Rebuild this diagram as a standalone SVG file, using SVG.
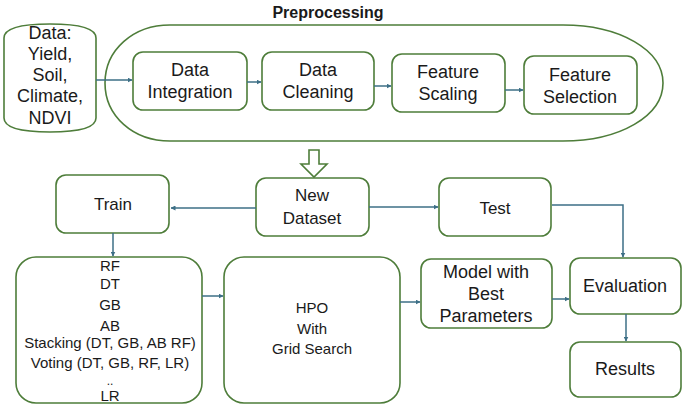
<svg xmlns="http://www.w3.org/2000/svg" width="685" height="407" viewBox="0 0 685 407">
<defs>
<style>
.box{fill:#fff;stroke:#4e7d3a;stroke-width:1.6}
.t{font-family:"Liberation Sans",Arial,sans-serif;font-size:18px;fill:#1a1a1a;text-anchor:middle}
.m{font-size:17px}
.s{font-size:15px}
.c{fill:none;stroke:#3d6f86;stroke-width:1.5}
</style>
<marker id="ah" viewBox="0 0 10 10" refX="9" refY="5" markerWidth="5" markerHeight="5" orient="auto" markerUnits="userSpaceOnUse">
<path d="M0,0 L10,5 L0,10 Z" fill="#3d6f86"/>
</marker>
</defs>
<rect width="685" height="407" fill="#fff"/>

<g id="preprocessing">
<path class="box" d="M170,25 L563,25 C620,25 663,50 663,83 C663,116 620,141 563,141 L170,141 C133,141 105,116 105,83 C105,50 133,25 170,25 Z"/>
<text class="t" x="328" y="18" style="font-size:16px;font-weight:bold">Preprocessing</text>
</g>

<g id="data">
<path class="box" d="M4,38 Q4,24 50,24 Q96,24 96,38 L96,118 Q96,132 50,132 Q4,132 4,118 Z"/>
<text class="t" x="50" y="39">Data:</text>
<text class="t" x="50" y="60">Yield,</text>
<text class="t" x="50" y="81">Soil,</text>
<text class="t" x="50" y="102">Climate,</text>
<text class="t" x="50" y="124">NDVI</text>
</g>

<g id="integration">
<rect class="box" x="133" y="52" width="114" height="58" rx="10"/>
<text class="t" x="190" y="76">Data</text>
<text class="t" x="190" y="98">Integration</text>
</g>
<g id="cleaning">
<rect class="box" x="262" y="52" width="112" height="58" rx="10"/>
<text class="t" x="318" y="76">Data</text>
<text class="t" x="318" y="98">Cleaning</text>
</g>
<g id="scaling">
<rect class="box" x="392" y="54" width="113" height="58" rx="10"/>
<text class="t" x="448" y="78">Feature</text>
<text class="t" x="448" y="100">Scaling</text>
</g>
<g id="selection">
<rect class="box" x="524" y="56" width="113" height="58" rx="10"/>
<text class="t" x="580" y="81">Feature</text>
<text class="t" x="580" y="103">Selection</text>
</g>

<g id="hollow-arrow">
<path class="box" d="M309,150 L319,150 L319,164 L327,164 L314,177 L301,164 L309,164 Z"/>
</g>

<g id="newdataset">
<rect class="box" x="256" y="178" width="113" height="58" rx="10"/>
<text class="t m" x="312" y="201">New</text>
<text class="t m" x="312" y="224">Dataset</text>
</g>
<g id="train">
<rect class="box" x="56" y="175" width="113" height="58" rx="10"/>
<text class="t m" x="113" y="210">Train</text>
</g>
<g id="test">
<rect class="box" x="439" y="178" width="112" height="58" rx="10"/>
<text class="t m" x="495" y="214">Test</text>
</g>

<g id="models">
<rect class="box" x="16" y="257" width="186" height="146" rx="20"/>
<text class="t s" x="110" y="271">RF</text>
<text class="t s" x="110" y="289">DT</text>
<text class="t s" x="110" y="310">GB</text>
<text class="t s" x="110" y="331">AB</text>
<text class="t s" x="110" y="348">Stacking (DT, GB, AB RF)</text>
<text class="t s" x="110" y="368">Voting (DT, GB, RF, LR)</text>
<text class="t" x="110" y="385" style="font-size:12px">..</text>
<text class="t s" x="110" y="401">LR</text>
</g>
<g id="hpo">
<rect class="box" x="224" y="257" width="176" height="146" rx="20"/>
<text class="t s" x="312" y="313">HPO</text>
<text class="t s" x="312" y="334">With</text>
<text class="t s" x="312" y="354">Grid Search</text>
</g>
<g id="bestmodel">
<rect class="box" x="421" y="259" width="131" height="69" rx="10"/>
<text class="t" x="486" y="278">Model with</text>
<text class="t" x="486" y="300">Best</text>
<text class="t" x="486" y="322">Parameters</text>
</g>
<g id="evaluation">
<rect class="box" x="570" y="258" width="111" height="56" rx="10"/>
<text class="t" x="625" y="292">Evaluation</text>
</g>
<g id="results">
<rect class="box" x="570" y="342" width="111" height="55" rx="10"/>
<text class="t" x="625" y="375">Results</text>
</g>

<g id="connectors">
<path class="c" d="M96,80 L132,80" marker-end="url(#ah)"/>
<path class="c" d="M247,82 L261,82" marker-end="url(#ah)"/>
<path class="c" d="M374,86 L391,86" marker-end="url(#ah)"/>
<path class="c" d="M505,90 L523,90" marker-end="url(#ah)"/>
<path class="c" d="M256,208 L171,208" marker-end="url(#ah)"/>
<path class="c" d="M369,207 L438,207" marker-end="url(#ah)"/>
<path class="c" d="M552,205 L623,205 L623,257" marker-end="url(#ah)"/>
<path class="c" d="M113,233 L113,256" marker-end="url(#ah)"/>
<path class="c" d="M202,296 L223,296" marker-end="url(#ah)"/>
<path class="c" d="M400,302 L420,302" marker-end="url(#ah)"/>
<path class="c" d="M552,299 L569,299" marker-end="url(#ah)"/>
<path class="c" d="M626,314 L626,341" marker-end="url(#ah)"/>
</g>
</svg>
